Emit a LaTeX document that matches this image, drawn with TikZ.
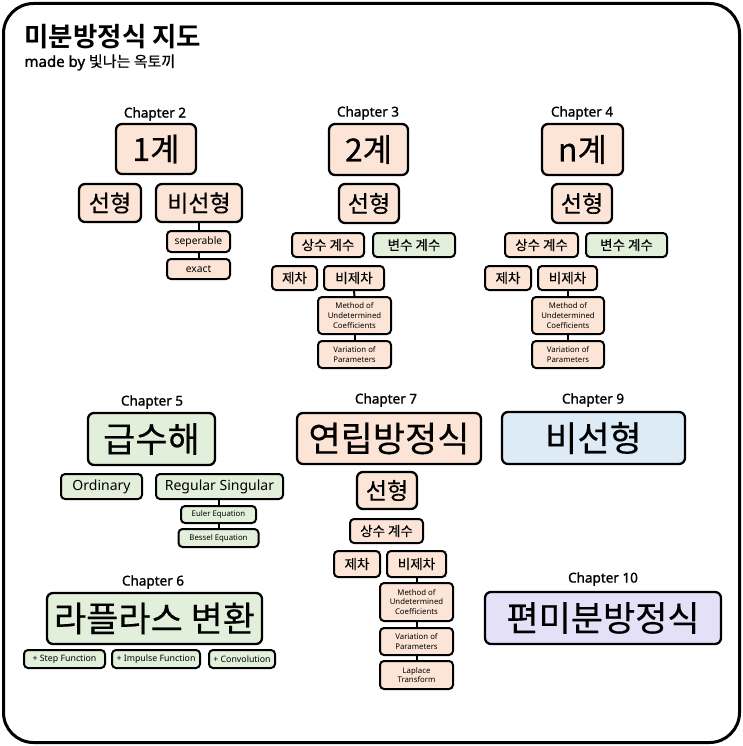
\documentclass[tikz,border=0pt]{standalone}
\usepackage{fontspec}
\setmainfont{Noto Sans}
\newfontfamily\lat{Noto Sans}
\newfontfamily\latm{Noto Sans}[FakeBold=1.3]
\newfontfamily\kr{Noto Sans CJK KR}[FakeBold=0.35]
\newfontfamily\krs{Noto Sans CJK KR}[FakeBold=0.12]
\newfontfamily\krb{Noto Sans CJK KR}[UprightFont={* Bold}]
\newcommand\fsz[2]{\fontsize{#1}{#2}\selectfont}
\definecolor{pch}{HTML}{FCE4D6}
\definecolor{grn}{HTML}{E2EFDA}
\definecolor{blu}{HTML}{DDEBF7}
\definecolor{lav}{HTML}{E4E0F7}
\tikzset{
  bx/.style={draw=black, line width=2.3pt, rounded corners=6pt, inner sep=0pt, align=center},
  sbx/.style={draw=black, line width=2pt, rounded corners=4pt, inner sep=0pt, align=center},
  chap/.style={font=\latm\fsz{13.5}{15}},
  big/.style={font=\kr\fsz{32}{36}},
  huge/.style={font=\kr\fsz{35}{40}},
  mid/.style={font=\kr\fsz{23}{26}},
  smk/.style={font=\krs\fsz{13.5}{16}},
  sm/.style={font=\lat\fsz{14}{16}},
  tiny/.style={font=\lat\fsz{10.3}{12}},
  fn/.style={font=\lat\fsz{8.8}{10}},
  tinier/.style={font=\lat\fsz{7.8}{9.6}},
  conn/.style={line width=2pt},
}
\begin{document}
\begin{tikzpicture}[x=1pt,y=-1pt]
\useasboundingbox (0,0) rectangle (743,746);
\draw[line width=3pt, rounded corners=30pt] (3.5,3.5) rectangle (739.5,742.5);
\node[anchor=west, font=\krb\fsz{26.5}{30}] (title) at (21,37) {미분방정식 지도};
\node[anchor=west, font=\latm\fsz{15}{17}] (sub) at (21,62.5) {made by {\kr 빛나는 옥토끼}};

% Chapter 2
\node[chap] (c2) at (155,114) {Chapter 2};
\node[bx, fill=pch, big, minimum width=80, minimum height=50] (n1) at (156,149) {1계};
\node[bx, fill=pch, mid, minimum width=62, minimum height=38] (l2) at (110,203) {선형};
\node[bx, fill=pch, mid, minimum width=86, minimum height=38] (nl2) at (199,203) {비선형};
\node[sbx, fill=pch, tiny, minimum width=63, minimum height=21] (sep) at (198.5,241.5) {seperable};
\node[sbx, fill=pch, tiny, minimum width=63, minimum height=20] (ex) at (198.5,269) {exact};
\draw[conn] (nl2.south -| sep.north) -- (sep.north);
\draw[conn] (sep.south) -- (ex.north);

% Chapter 3
\node[chap] (c3) at (368,113) {Chapter 3};
\node[bx, fill=pch, big, minimum width=79, minimum height=51] (n2) at (368.5,149.5) {2계};
\node[bx, fill=pch, mid, minimum width=60, minimum height=39] (l3) at (369,203.5) {선형};
\node[sbx, fill=pch, smk, minimum width=72, minimum height=24] (s3) at (328,245) {상수 계수};
\node[sbx, fill=grn, smk, minimum width=82, minimum height=24] (v3) at (414,245) {변수 계수};
\node[sbx, fill=pch, smk, minimum width=45, minimum height=24] (h3) at (294.5,278) {제차};
\node[sbx, fill=pch, smk, minimum width=60, minimum height=24] (nh3) at (354,278) {비제차};
\node[sbx, fill=pch, tinier, minimum width=73, minimum height=37] (m3) at (354.5,315.5) {Method of\\Undetermined\\Coefficients};
\node[sbx, fill=pch, tinier, minimum width=73, minimum height=27] (p3) at (354.5,354.5) {Variation of\\Parameters};
\draw[conn] (nh3.south) -- (m3.north);
\draw[conn] (m3.south) -- (p3.north);

% Chapter 4
\node[chap] (c4) at (582,113) {Chapter 4};
\node[bx, fill=pch, big, minimum width=81, minimum height=51] (n4) at (582.5,149.5) {n계};
\node[bx, fill=pch, mid, minimum width=60, minimum height=39] (l4) at (582,203.5) {선형};
\node[sbx, fill=pch, smk, minimum width=73, minimum height=24] (s4) at (541.5,245) {상수 계수};
\node[sbx, fill=grn, smk, minimum width=81, minimum height=24] (v4) at (626.5,245) {변수 계수};
\node[sbx, fill=pch, smk, minimum width=46, minimum height=24] (h4) at (508,278) {제차};
\node[sbx, fill=pch, smk, minimum width=59, minimum height=24] (nh4) at (567.5,278) {비제차};
\node[sbx, fill=pch, tinier, minimum width=72, minimum height=37] (m4) at (568,315.5) {Method of\\Undetermined\\Coefficients};
\node[sbx, fill=pch, tinier, minimum width=72, minimum height=27] (p4) at (568,354.5) {Variation of\\Parameters};
\draw[conn] (m4.north |- nh4.south) -- (m4.north);
\draw[conn] (m4.south) -- (p4.north);

% Chapter 5
\node[chap] (c5) at (152,402) {Chapter 5};
\node[bx, fill=grn, huge, minimum width=127, minimum height=52] (n5) at (151.5,439) {급수해};
\node[sbx, fill=grn, sm, minimum width=81, minimum height=25] (ord) at (101.5,486.5) {Ordinary};
\node[sbx, fill=grn, sm, minimum width=127, minimum height=25] (rs) at (219.5,486.5) {Regular Singular};
\node[sbx, fill=grn, tinier, minimum width=75, minimum height=17] (eu) at (218.5,514.5) {Euler Equation};
\node[sbx, fill=grn, tinier, minimum width=80, minimum height=18] (be) at (218.5,538) {Bessel Equation};
\draw[conn] (eu.north |- rs.south) -- (eu.north);
\draw[conn] (eu.south) -- (be.north);

% Chapter 7
\node[chap] (c7) at (386,400) {Chapter 7};
\node[bx, fill=pch, huge, minimum width=184, minimum height=51] (n7) at (389,438.5) {연립방정식};
\node[bx, fill=pch, mid, minimum width=60, minimum height=37] (l7) at (387,490.5) {선형};
\node[sbx, fill=pch, smk, minimum width=73, minimum height=24] (s7) at (386.5,531) {상수 계수};
\node[sbx, fill=pch, smk, minimum width=46, minimum height=26] (h7) at (357,564) {제차};
\node[sbx, fill=pch, smk, minimum width=59, minimum height=26] (nh7) at (416.5,564) {비제차};
\node[sbx, fill=pch, tinier, minimum width=73, minimum height=38] (m7) at (416.5,602) {Method of\\Undetermined\\Coefficients};
\node[sbx, fill=pch, tinier, minimum width=73, minimum height=27] (p7) at (416.5,641.5) {Variation of\\Parameters};
\node[sbx, fill=pch, tinier, minimum width=73, minimum height=28] (lt7) at (416.5,675) {Laplace\\Transform};
\draw[conn] (nh7.south) -- (m7.north);
\draw[conn] (m7.south) -- (p7.north);
\draw[conn] (p7.south) -- (lt7.north);

% Chapter 6
\node[chap] (c6) at (153,582) {Chapter 6};
\node[bx, fill=grn, huge, minimum width=215, minimum height=51] (n6) at (154.5,618.5) {라플라스 변환};
\node[sbx, fill=grn, fn, minimum width=81, minimum height=18] (st) at (64.5,659) {+ Step Function};
\node[sbx, fill=grn, fn, minimum width=88, minimum height=18] (im) at (156,659) {+ Impulse Function};
\node[sbx, fill=grn, fn, minimum width=66, minimum height=18] (cv) at (242,659) {+ Convolution};

% Chapter 9
\node[chap] (c9) at (593,400) {Chapter 9};
\node[bx, fill=blu, huge, minimum width=183, minimum height=52] (n9) at (593.5,438) {비선형};

% Chapter 10
\node[chap] (c10) at (603,579) {Chapter 10};
\node[bx, fill=lav, huge, minimum width=236, minimum height=52] (n10) at (603,618) {편미분방정식};
\end{tikzpicture}
\end{document}
